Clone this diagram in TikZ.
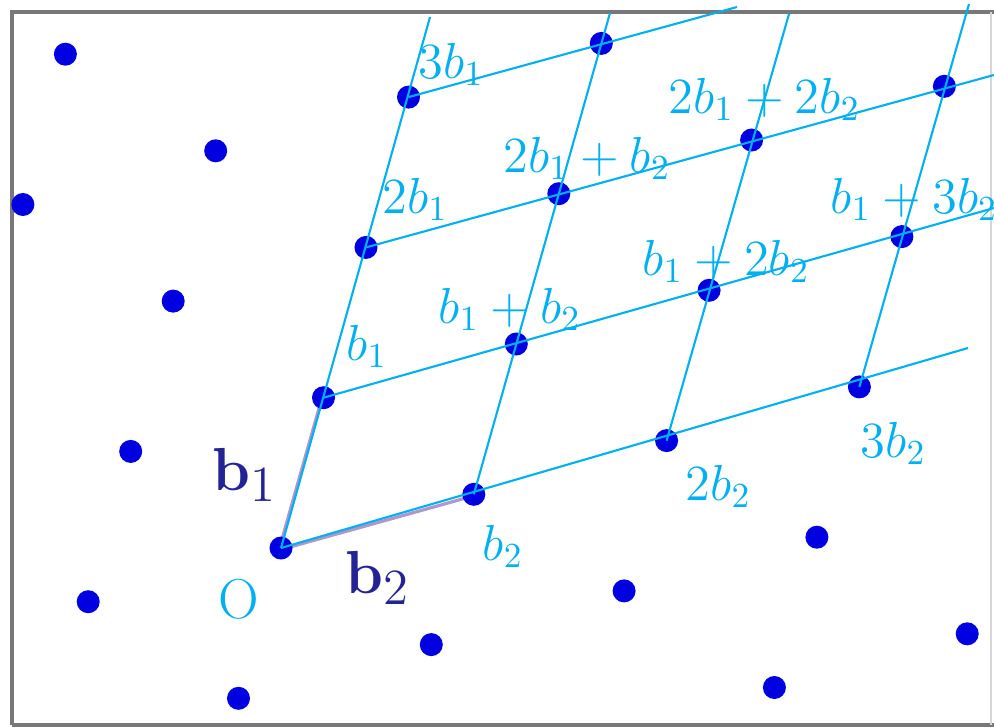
\documentclass[tikz,border=0pt]{standalone}
\usepackage{amsmath}
\usepackage{tikz}
\definecolor{latblue}{RGB}{0,0,225}
\definecolor{gridcyan}{RGB}{0,176,240}
\definecolor{basisnavy}{RGB}{35,35,150}
\definecolor{basisshade}{RGB}{175,150,205}
\definecolor{framegray}{RGB}{120,120,120}

\begin{document}
\begin{tikzpicture}[
    x=0.01cm, y=-0.01cm,
    latpt/.style={circle, fill=latblue, minimum size=0.23cm, inner sep=0pt},
    gridln/.style={gridcyan, line width=0.6pt},
    basisln/.style={basisshade, line width=0.9pt},
    lbl/.style={gridcyan, font=\fontsize{14.5}{16}\selectfont, inner sep=0pt, anchor=base west},
    basislbl/.style={basisnavy, font=\fontsize{19}{22}\selectfont, inner sep=0pt, anchor=base west},
]
\useasboundingbox (0,0) rectangle (994,727);

% --- Frame ---
\draw[framegray, line width=0.9pt] (12,725) -- (12,12) -- (994,12);
\draw[framegray, line width=0.9pt] (12,725) -- (994,725);
\draw[framegray!30, line width=0.4pt] (991,12) -- (991,725);

% --- Basis vectors (shaded, under the grid) ---
\coordinate (O) at (281,548);
\coordinate (b1end) at (323.5,397.7);
\coordinate (b2end) at (473.8,494.3);
\draw[basisln] ([xshift=-0.015cm]O) -- ([xshift=-0.015cm]b1end);
\draw[basisln] ([yshift=-0.015cm]O) -- ([yshift=-0.015cm]b2end);

% --- Lattice points i*b1 + j*b2 ---
\foreach \i/\j in {0/0,1/0,2/0,3/0,0/1,1/1,2/1,3/1,0/2,1/2,2/2,0/3,1/3,2/3,
                   1/-1,2/-1,3/-1,3/-2,4/-2,0/-1,-1/0,-1/1,-1/2,-1/3,-2/3,-2/4}
    \node[latpt] (pt\i_\j) at ({281+42.5*\i+192.8*\j},{548-150.3*\i-53.7*\j}) {};

% --- Grid lines along b1 ---
\coordinate (m0) at (430,17);
\coordinate (m1) at (610,13);
\coordinate (m2) at (789,14);
\coordinate (m3) at (969,4);
\draw[gridln] (pt0_0.center) -- (m0);
\draw[gridln] (pt0_1.center) -- (m1);
\draw[gridln] (pt0_2.center) -- (m2);
\draw[gridln] (pt0_3.center) -- (m3);

% --- Grid lines along b2 ---
\coordinate (n0) at (968,348);
\coordinate (n1) at (994,208);
\coordinate (n2) at (994,75);
\coordinate (n3) at (737,7);
\draw[gridln] (pt0_0.center) -- (n0);
\draw[gridln] (pt1_0.center) -- (n1);
\draw[gridln] (pt2_0.center) -- (n2);
\draw[gridln] (pt3_0.center) -- (n3);

% --- Point labels ---
\node[lbl] (l3b1) at (418,78) {$3b_1$};
\node[lbl] (l2b1) at (382,213) {$2b_1$};
\node[lbl] (lb1) at (346,360) {$b_1$};
\node[lbl] (lb1b2) at (438,323) {$b_1 + b_2$};
\node[lbl] (l2b1b2) at (503,172) {$2b_1 + b_2$};
\node[lbl] (l2b12b2) at (668,113) {$2b_1 + 2b_2$};
\node[lbl] (lb12b2) at (642,275) {$b_1 + 2b_2$};
\node[lbl] (lb13b2) at (830,213) {$b_1 + 3b_2$};
\node[lbl] (lb2) at (482,560) {$b_2$};
\node[lbl] (l2b2) at (685,500) {$2b_2$};
\node[lbl] (l3b2) at (860,457) {$3b_2$};
\node[lbl, font=\fontsize{16}{18}\selectfont] (lO) at (218,618) {O};

% --- Basis labels ---
\node[basislbl] (b1lbl) at (212,490) {$\mathbf{b}_1$};
\node[basislbl] (b2lbl) at (345,593) {$\mathbf{b}_2$};

\end{tikzpicture}
\end{document}
